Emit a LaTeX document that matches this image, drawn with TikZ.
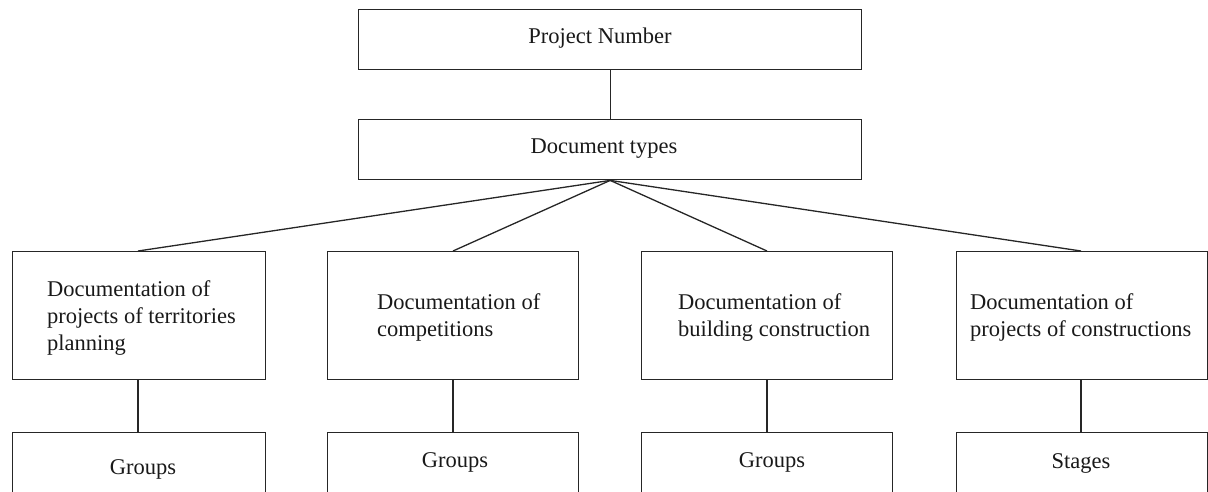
\documentclass[tikz,border=0pt]{standalone}
\usepackage{fontspec}
\setmainfont{Liberation Serif}
\begin{document}
\begin{tikzpicture}[x=1pt,y=-1pt,
  boxshape/.style={draw=black!85,line width=1.4pt,rectangle,inner sep=0pt,anchor=north west},
  lbl/.style={font=\fontsize{22.5}{27}\selectfont,inner sep=0pt,text=black!90},
  mlbl/.style={lbl,align=left,anchor=west},
  link/.style={draw=black!85,line width=1.3pt}]
\useasboundingbox (0,0) rectangle (1208,491);
\clip (0,0) rectangle (1208,491);
% top boxes
\node[boxshape,minimum width=503pt,minimum height=60pt] (pn) at (358,9) {};
\node[boxshape,minimum width=503pt,minimum height=60pt] (dt) at (358,119) {};
\node[lbl] (pnt) at (600,38) {Project Number};
\node[lbl] (dtt) at (604,149) {Document types};
% middle boxes
\node[boxshape,minimum width=253pt,minimum height=128pt] (b1) at (12,251) {};
\node[boxshape,minimum width=251pt,minimum height=128pt] (b2) at (327,251) {};
\node[boxshape,minimum width=251pt,minimum height=128pt] (b3) at (641,251) {};
\node[boxshape,minimum width=251pt,minimum height=128pt] (b4) at (956,251) {};
\node[mlbl] (t1) at (47,318) {Documentation of\\projects of territories\\planning};
\node[mlbl] (t2) at (377,317) {Documentation of\\competitions};
\node[mlbl] (t3) at (678,317) {Documentation of\\building construction};
\node[mlbl] (t4) at (970,317) {Documentation of\\projects of constructions};
% bottom boxes
\node[boxshape,minimum width=253pt,minimum height=70pt] (g1) at (12,432) {};
\node[boxshape,minimum width=251pt,minimum height=70pt] (g2) at (327,432) {};
\node[boxshape,minimum width=251pt,minimum height=70pt] (g3) at (641,432) {};
\node[boxshape,minimum width=251pt,minimum height=70pt] (g4) at (956,432) {};
\node[lbl] (gt1) at (143,469) {Groups};
\node[lbl] (gt2) at (455,462) {Groups};
\node[lbl] (gt3) at (772,462) {Groups};
\node[lbl] (gt4) at (1081,463) {Stages};
% connectors
\draw[link] (pn.south) -- (dt.north);
\draw[link] (dt.south) -- (b1.north -| 138,0);
\draw[link] (dt.south) -- (b2.north -| 453,0);
\draw[link] (dt.south) -- (b3.north -| 767,0);
\draw[link] (dt.south) -- (b4.north -| 1081,0);
\draw[link] (b1.south -| 138,0) -- (g1.north -| 138,0);
\draw[link] (b2.south -| 453,0) -- (g2.north -| 453,0);
\draw[link] (b3.south -| 767,0) -- (g3.north -| 767,0);
\draw[link] (b4.south -| 1081,0) -- (g4.north -| 1081,0);
\end{tikzpicture}
\end{document}
